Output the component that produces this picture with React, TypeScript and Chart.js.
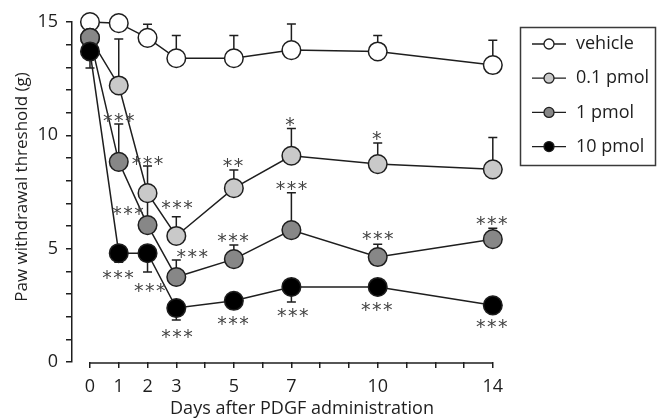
import React, { useEffect, useRef } from 'react';
import { Chart, registerables } from 'chart.js';

Chart.register(...registerables);

// ---------- data ----------
const days = [0, 1, 2, 3, 5, 7, 10, 14];
const xTickValues = [0, 1, 2, 3, 4, 5, 6, 7, 8, 9, 10, 11, 12, 13, 14];
const xTickLabels = [0, 1, 2, 3, 5, 7, 10, 14];
const yTickValues = [0, 1, 2, 3, 4, 5, 6, 7, 8, 9, 10, 11, 12, 13, 14, 15];
const yTickLabels = [0, 5, 10, 15];
const xTitle = 'Days after PDGF administration';
const yTitle = 'Paw withdrawal threshold (g)';

const seriesLabels = ['vehicle', '0.1 pmol', '1 pmol', '10 pmol'];
const seriesColors = ['#ffffff', '#c9c9c9', '#878787', '#000000'];

const vehicle = [15.0, 14.95, 14.3, 13.4, 13.4, 13.76, 13.7, 13.1];
const vehicleSem = [0, 0, 0.6, 1.0, 1.0, 1.15, 0.7, 1.1];
const pmol01 = [14.3, 12.2, 7.45, 5.56, 7.67, 9.1, 8.73, 8.5];
const pmol01Sem = [0, 2.05, 1.2, 0.85, 0.8, 1.2, 0.93, 1.4];
const pmol1 = [14.3, 8.83, 6.04, 3.75, 4.54, 5.82, 4.63, 5.42];
const pmol1Sem = [0, 1.67, 1.2, 0.75, 0.62, 1.65, 0.57, 0.48];
const pmol10 = [13.7, 4.8, 4.8, 2.38, 2.7, 3.31, 3.31, 2.5];
const pmol10Sem = [0.73, 0.4, 0.83, 0.53, 0, 0.66, 0, 0.2];

// significance marks: position in data units + text
const sigDays = [1.0, 2.0, 1.32, 3.02, 3.55, 0.97, 2.08, 3.02, 4.97, 4.97, 4.97, 6.95, 7.0, 7.05, 9.97, 10.0, 9.97, 13.96, 13.96];
const sigValues = [10.8, 8.9, 6.7, 6.93, 4.8, 3.84, 3.3, 1.24, 8.82, 5.51, 1.85, 10.59, 7.8, 2.2, 10.0, 5.56, 2.43, 6.26, 1.72];
const sigTexts = ['***', '***', '***', '***', '***', '***', '***', '***', '**', '***', '***', '*', '***', '***', '*', '***', '***', '***', '***'];

// ---------- styling ----------
const FONT = "'Open Sans', sans-serif";
const INK = '#1e1e1e';

const errorBarPlugin = {
  id: 'errorBars',
  beforeDatasetsDraw(chart: any) {
    const { ctx } = chart;
    const ys = chart.scales.y;
    const xs = chart.scales.x;
    ctx.save();
    // separated x axis line spanning first..last tick
    ctx.strokeStyle = INK;
    ctx.lineWidth = 1.5;
    ctx.beginPath();
    const yb = chart.chartArea.bottom + 1;
    ctx.moveTo(xs.getPixelForValue(xTickValues[0]), yb);
    ctx.lineTo(xs.getPixelForValue(xTickValues[xTickValues.length - 1]), yb);
    ctx.stroke();
    chart.data.datasets.forEach((ds: any, i: number) => {
      const meta = chart.getDatasetMeta(i);
      ds.sem.forEach((s: number, j: number) => {
        if (!s) return;
        const pt = meta.data[j];
        const v = ds.data[j].y;
        const end = ys.getPixelForValue(v + ds.errDir * s);
        ctx.beginPath();
        ctx.moveTo(pt.x, pt.y);
        ctx.lineTo(pt.x, end);
        ctx.moveTo(pt.x - 4.5, end);
        ctx.lineTo(pt.x + 4.5, end);
        ctx.stroke();
      });
    });
    ctx.restore();
  },
};

const sigPlugin = {
  id: 'sigMarks',
  afterDatasetsDraw(chart: any) {
    const { ctx } = chart;
    const xs = chart.scales.x;
    const ys = chart.scales.y;
    ctx.save();
    ctx.fillStyle = '#444444';
    ctx.font = "19px 'DejaVu Sans'";
    ctx.textAlign = 'center';
    ctx.textBaseline = 'alphabetic';
    const m = ctx.measureText('*');
    const off = (m.actualBoundingBoxAscent - m.actualBoundingBoxDescent) / 2;
    const pitch = 11;
    sigTexts.forEach((t, k) => {
      const cx = xs.getPixelForValue(sigDays[k]);
      const cy = ys.getPixelForValue(sigValues[k]);
      const n = t.length;
      for (let c = 0; c < n; c++) {
        const px = cx + (c - (n - 1) / 2) * pitch;
        ctx.fillText(t[c], px, cy + off);
      }
    });
    ctx.restore();
  },
};

const titlesAndLegendPlugin = {
  id: 'titlesLegend',
  afterDraw(chart: any) {
    const { ctx } = chart;
    ctx.save();
    // axis titles
    ctx.fillStyle = INK;
    ctx.textAlign = 'center';
    ctx.textBaseline = 'middle';
    ctx.font = `18px ${FONT}`;
    ctx.fillText(xTitle, 302, 409);
    ctx.save();
    ctx.translate(22, 187);
    ctx.rotate(-Math.PI / 2);
    ctx.font = `17px ${FONT}`;
    ctx.fillText(yTitle, 0, 0);
    ctx.restore();

    // boxed legend
    ctx.strokeStyle = '#3a3a3a';
    ctx.lineWidth = 1.5;
    ctx.strokeRect(520.5, 27.5, 135, 138);
    ctx.font = `18px ${FONT}`;
    ctx.textBaseline = 'middle';
    ctx.textAlign = 'left';
    chart.data.datasets.forEach((ds: any, i: number) => {
      const y = 44 + i * 34.2;
      ctx.strokeStyle = INK;
      ctx.lineWidth = 1.3;
      ctx.beginPath();
      ctx.moveTo(532, y);
      ctx.lineTo(566, y);
      ctx.stroke();
      ctx.beginPath();
      ctx.arc(549, y, 5, 0, Math.PI * 2);
      ctx.fillStyle = ds.backgroundColor;
      ctx.fill();
      ctx.stroke();
      ctx.fillStyle = INK;
      ctx.fillText(ds.label, 576, y);
    });
    ctx.restore();
  },
};

export default function App() {
  const ref = useRef<HTMLCanvasElement | null>(null);
  useEffect(() => {
    if (!ref.current) return;
    const mk = (vals: number[], sem: number[], dir: number, idx: number, order: number) => ({
      label: seriesLabels[idx],
      data: days.map((d, i) => ({ x: d, y: vals[i] })),
      sem,
      errDir: dir,
      order,
      clip: false,
      borderColor: INK,
      borderWidth: 1.5,
      backgroundColor: seriesColors[idx],
      pointBackgroundColor: seriesColors[idx],
      pointBorderColor: INK,
      pointBorderWidth: 1.5,
      pointRadius: 9.3,
      pointHoverRadius: 9.3,
      tension: 0,
      fill: false,
    });
    const chart = new Chart(ref.current, {
      type: 'line',
      data: {
        datasets: [
          mk(vehicle, vehicleSem, 1, 0, 3),
          mk(pmol01, pmol01Sem, 1, 1, 2),
          mk(pmol1, pmol1Sem, 1, 2, 1),
          mk(pmol10, pmol10Sem, -1, 3, 0),
        ] as any,
      },
      options: {
        responsive: false,
        animation: false,
        layout: { padding: { top: 22, right: 158, left: 0, bottom: 0 } },
        plugins: { legend: { display: false }, tooltip: { enabled: false } },
        scales: {
          x: {
            type: 'linear',
            min: -0.625,
            max: 14.25,
            afterBuildTicks: (s: any) => {
              s.ticks = xTickValues.map((v) => ({ value: v }));
            },
            afterFit: (s: any) => {
              s.height = 56;
            },
            ticks: {
              autoSkip: false,
              maxRotation: 0,
              padding: 8,
              color: INK,
              font: { family: FONT, size: 18 },
              callback: (v: any) => (xTickLabels.includes(Number(v)) ? String(v) : ''),
            },
            grid: { drawOnChartArea: false, drawTicks: true, tickLength: 6, color: INK, lineWidth: 1.5 },
            border: { display: false },
          },
          y: {
            type: 'linear',
            min: 0,
            max: 15,
            afterBuildTicks: (s: any) => {
              s.ticks = yTickValues.map((v) => ({ value: v }));
            },
            afterFit: (s: any) => {
              s.width = 72;
            },
            ticks: {
              autoSkip: false,
              padding: 8,
              color: INK,
              font: { family: FONT, size: 18 },
              callback: (v: any) => (yTickLabels.includes(Number(v)) ? String(v) : ''),
            },
            grid: { drawOnChartArea: false, drawTicks: true, tickLength: 6, color: INK, lineWidth: 1.5 },
            border: { display: true, color: INK, width: 1.5 },
          },
        },
      },
      plugins: [errorBarPlugin, sigPlugin, titlesAndLegendPlugin],
    });
    return () => chart.destroy();
  }, []);
  return (
    <div style={{ position: 'fixed', left: 0, top: 0, width: 658, height: 418, background: '#fff' }}>
      <canvas ref={ref} width={658} height={418} style={{ width: 658, height: 418, display: 'block' }} />
    </div>
  );
}
